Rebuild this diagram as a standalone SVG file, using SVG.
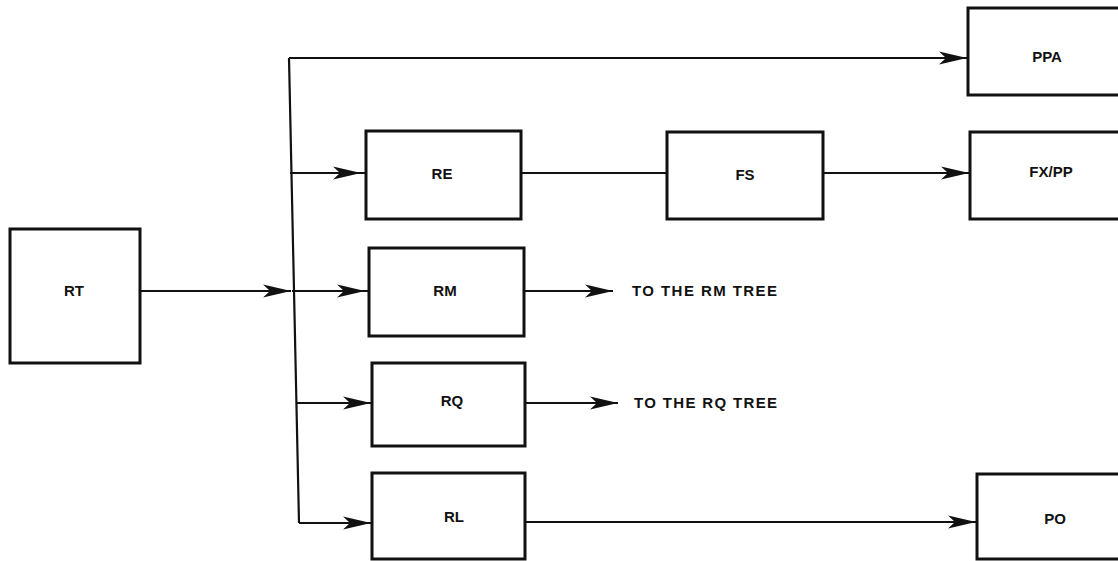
<svg xmlns="http://www.w3.org/2000/svg" width="1118" height="561" viewBox="0 0 1118 561">
<style>
.box{fill:none;stroke:#111;stroke-width:3;stroke-linejoin:miter}
.lbl{font-family:"Liberation Sans",Arial,sans-serif;font-weight:bold;font-size:15px;fill:#111;text-anchor:middle}
.note{font-family:"Liberation Sans",Arial,sans-serif;font-weight:bold;font-size:15px;fill:#111}
.con{fill:none;stroke:#111;stroke-width:2.2}
</style>
<defs>
<marker id="ah" markerUnits="userSpaceOnUse" markerWidth="30" markerHeight="16" refX="28" refY="8" orient="auto" overflow="visible">
<path d="M0,1.5 L28,8 L0,14.5 L7,8 Z" fill="#111"/>
</marker>
</defs>
<rect width="1118" height="561" fill="#fff"/>
<g id="connectors">
<path class="con" d="M140,291 L291,291" marker-end="url(#ah)"/>
<path class="con" d="M289,58 L299,523"/>
<path class="con" d="M289,58 L967,58" marker-end="url(#ah)"/>
<path class="con" d="M290,173 L361,173 L366,173" marker-mid="url(#ah)"/>
<path class="con" d="M521,173 L667,173"/>
<path class="con" d="M823,173 L969,173" marker-end="url(#ah)"/>
<path class="con" d="M292,291 L365,291 L369,291" marker-mid="url(#ah)"/>
<path class="con" d="M524,291 L613,291" marker-end="url(#ah)"/>
<path class="con" d="M296,403 L371,403" marker-end="url(#ah)"/>
<path class="con" d="M525,403 L618,403" marker-end="url(#ah)"/>
<path class="con" d="M299,523 L371,523" marker-end="url(#ah)"/>
<path class="con" d="M525,522 L976,522" marker-end="url(#ah)"/>
</g>
<g id="RT"><rect class="box" x="10" y="229" width="130" height="134"/><text class="lbl" x="74" y="296">RT</text></g>
<g id="PPA"><rect class="box" x="968" y="8" width="160" height="87"/><text class="lbl" x="1047" y="62">PPA</text></g>
<g id="RE"><rect class="box" x="366" y="131" width="155" height="88"/><text class="lbl" x="442" y="179">RE</text></g>
<g id="FS"><rect class="box" x="667" y="132" width="156" height="87"/><text class="lbl" x="745" y="180">FS</text></g>
<g id="FXPP"><rect class="box" x="970" y="132" width="160" height="87"/><text class="lbl" x="1051" y="177">FX/PP</text></g>
<g id="RM"><rect class="box" x="369" y="248" width="155" height="88"/><text class="lbl" x="445" y="296">RM</text></g>
<g id="RQ"><rect class="box" x="372" y="363" width="153" height="83"/><text class="lbl" x="452" y="406">RQ</text></g>
<g id="RL"><rect class="box" x="372" y="473" width="153" height="86"/><text class="lbl" x="454" y="522">RL</text></g>
<g id="PO"><rect class="box" x="977" y="474" width="160" height="85"/><text class="lbl" x="1055" y="524">PO</text></g>
<g id="notes">
<text class="note" x="632" y="296" textLength="145" lengthAdjust="spacing">TO THE RM TREE</text>
<text class="note" x="634" y="408" textLength="143" lengthAdjust="spacing">TO THE RQ TREE</text>
</g>
</svg>
